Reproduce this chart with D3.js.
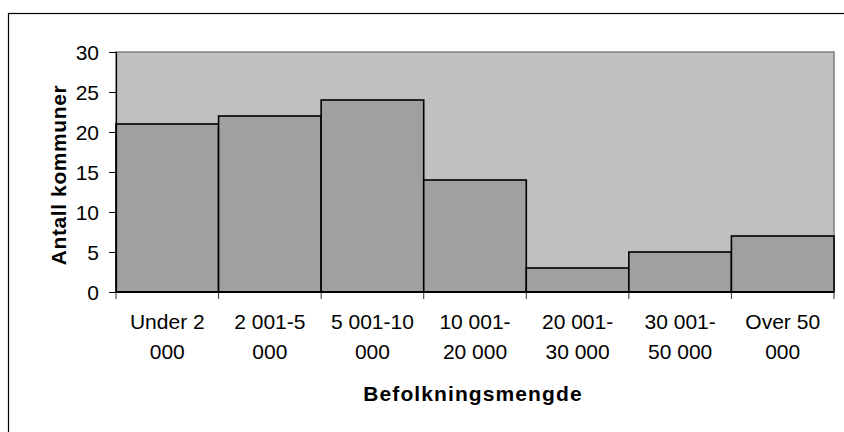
<!DOCTYPE html>
<html>
<head>
<meta charset="utf-8">
<script src="https://cdn.jsdelivr.net/npm/d3@7"></script>
<style>
  body { margin: 0; background: #fff; }
  text { font-family: "Liberation Sans", Arial, sans-serif; }
</style>
</head>
<body>
<div id="chart"></div>
<script>
// befolkningsgrupper og antall kommuner
var categories = [
    ["Under 2", "000"],
    ["2 001-5", "000"],
    ["5 001-10", "000"],
    ["10 001-", "20 000"],
    ["20 001-", "30 000"],
    ["30 001-", "50 000"],
    ["Over 50", "000"]
];
var counts = [21, 22, 24, 14, 3, 5, 7];
var yTicks = [0, 5, 10, 15, 20, 25, 30];

var W = 844, H = 432;
var margin = {top: 52, left: 116},
    width = 834 - margin.left,
    height = 292 - margin.top;

var svg = d3.select("#chart")
    .append("svg")
    .attr("width", W)
    .attr("height", H);

// outer frame (runs off the right and bottom edges)
svg.append("rect")
    .attr("x", 8.5).attr("y", 13.5)
    .attr("width", 860).attr("height", 440)
    .style("fill", "none")
    .style("stroke", "#000")
    .style("stroke-width", 1.2);

var g = svg.append("g").attr("transform", "translate(" + margin.left + "," + margin.top + ")");

var x = d3.scaleBand()
    .domain(d3.range(categories.length))
    .range([0, width])
    .padding(0);

var y = d3.scaleLinear()
    .domain([0, 30])
    .range([height, 0]);

// plot area
g.append("rect")
    .attr("x", 0).attr("y", 0)
    .attr("width", width).attr("height", height)
    .style("fill", "#c0c0c0")
    .style("stroke", "#808080")
    .style("stroke-width", 1.5);

g.selectAll(".bar")
    .data(counts)
    .enter()
    .append("rect")
        .attr("class", "bar")
        .attr("x", function(d, i) { return x(i); })
        .attr("y", function(d) { return y(d); })
        .attr("width", x.bandwidth())
        .attr("height", function(d) { return height - y(d); })
        .style("fill", "#a0a0a0")
        .style("stroke", "#000")
        .style("stroke-width", 1.6);

// y axis
var yAxis = g.append("g")
    .call(d3.axisLeft(y).tickValues(yTicks).tickSize(7).tickPadding(10));
yAxis.select(".domain").style("stroke", "#000").style("stroke-width", 1.2);
yAxis.selectAll(".tick line").style("stroke", "#000");
yAxis.selectAll("text")
    .attr("dy", "0.36em")
    .style("font-size", "21px").style("fill", "#000")
    .style("font-family", "'Liberation Sans', Arial, sans-serif");

// x axis: ticks at category boundaries
var xAxisG = g.append("g").attr("transform", "translate(0," + height + ")");
xAxisG.append("line")
    .attr("x1", 0).attr("x2", width)
    .style("stroke", "#000").style("stroke-width", 2);
xAxisG.selectAll(".xt")
    .data(d3.range(categories.length + 1))
    .enter()
    .append("line")
        .attr("x1", function(i) { return i < categories.length ? x(i) : width; })
        .attr("x2", function(i) { return i < categories.length ? x(i) : width; })
        .attr("y1", 0).attr("y2", 7)
        .style("stroke", "#333");

var labels = xAxisG.selectAll(".xl")
    .data(categories)
    .enter()
    .append("text")
        .attr("text-anchor", "middle")
        .attr("x", function(d, i) { return x(i) + x.bandwidth() / 2; })
        .style("font-size", "21px")
        .style("fill", "#000");
labels.selectAll("tspan")
    .data(function(d) { return d; })
    .enter()
    .append("tspan")
        .attr("x", function() { return d3.select(this.parentNode).attr("x"); })
        .attr("y", function(d, j) { return 37 + j * 30; })
        .text(function(d) { return d; });

// axis titles
svg.append("text")
    .attr("x", 473)
    .attr("y", 401)
    .attr("text-anchor", "middle")
    .style("font-size", "21px")
    .style("font-weight", "bold")
    .style("letter-spacing", "1.1px")
    .text("Befolkningsmengde");

svg.append("text")
    .attr("transform", "translate(66,175) rotate(-90)")
    .attr("text-anchor", "middle")
    .style("font-size", "21px")
    .style("font-weight", "bold")
    .style("letter-spacing", "0.6px")
    .text("Antall kommuner");
</script>
</body>
</html>
